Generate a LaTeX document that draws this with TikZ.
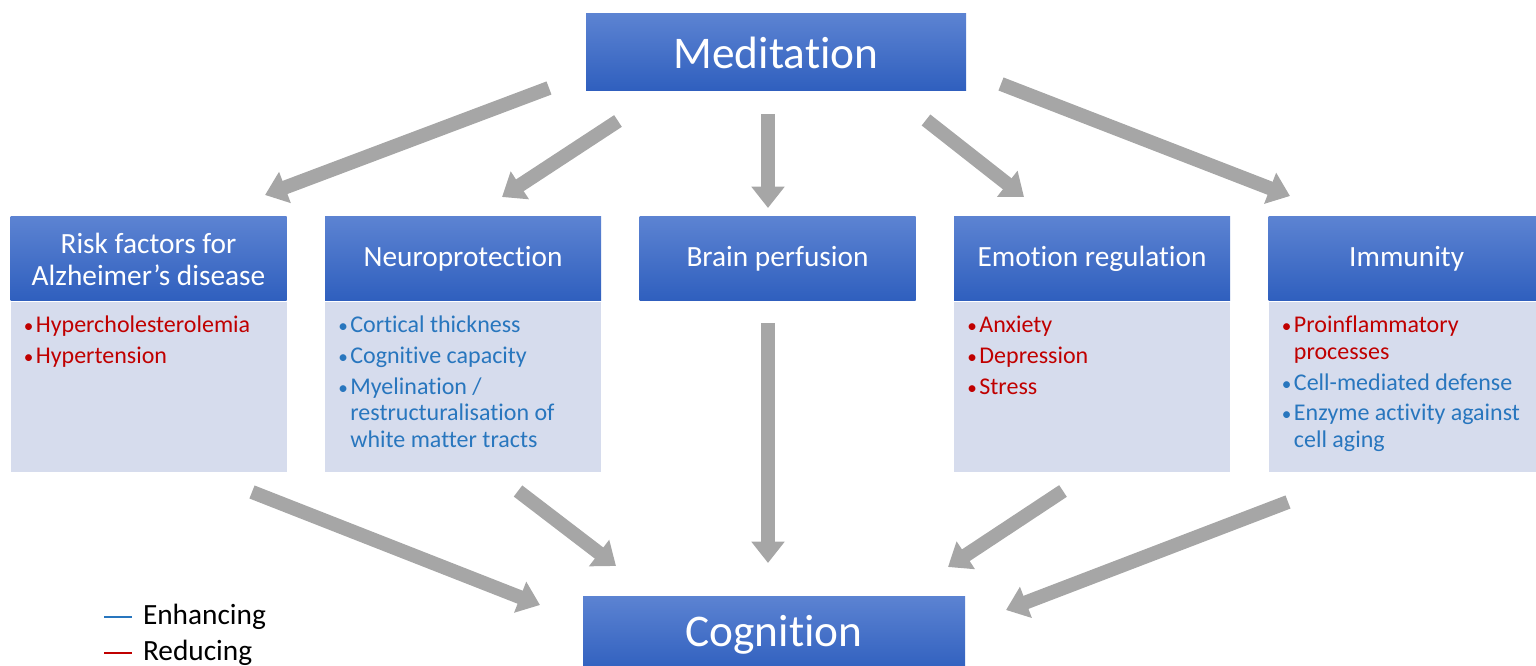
\documentclass[tikz,border=0pt]{standalone}
\usepackage{fontspec}
\setmainfont{Carlito}[Ligatures=NoCommon]
\usetikzlibrary{positioning,arrows.meta}

\definecolor{headtop}{RGB}{92,131,210}
\definecolor{headbot}{RGB}{47,95,190}
\definecolor{bodyfill}{RGB}{214,220,237}
\definecolor{flowgray}{RGB}{166,166,166}
\definecolor{upblue}{RGB}{40,118,190}
\definecolor{downred}{RGB}{192,0,0}

\newcommand{\itm}[2]{\par\hangindent=9pt\hangafter=1\hyphenpenalty=10000\relax\noindent
  {\color{#1}\makebox[9pt][l]{\scalebox{0.8}{\textbullet}}#2}\par}

\begin{document}
\begin{tikzpicture}[x=0.75pt,y=-0.75pt,
    head/.style={minimum width=207pt,minimum height=63pt,inner sep=0pt,
        top color=headtop,bottom color=headbot,text=white,align=center,
        font=\fontsize{22}{24}\selectfont},
    bigbox/.style={head,minimum width=285pt,minimum height=57.75pt,
        font=\fontsize{34}{38}\selectfont},
    bodybox/.style={fill=bodyfill,minimum width=207pt,minimum height=127.5pt,inner sep=0pt},
    items/.style={anchor=north west,inner sep=0pt,text width=189pt,align=flush left,
        font=\fontsize{18}{20}\selectfont\setlength{\parskip}{3pt}},
    flow/.style={draw=flowgray,line width=10.5pt,-{Triangle[width=24pt,length=16pt]}},
    key/.style={line width=1.5pt},
    keytext/.style={inner sep=0pt,right=7.5pt,text=black,font=\fontsize{22}{24}\selectfont}]

\useasboundingbox (0,0) rectangle (1536,666);
\clip (0,0) rectangle (1536,666);

\node[bigbox] (med) at (776,52.5) {Meditation};
\node[bigbox,minimum width=286.5pt] (cog) at (774,634.5) {Cognition};

% middle row
\node[head] (risk) at (148.5,259) {Risk factors for\\Alzheimer’s disease};
\node[head,right=28.5pt of risk] (neuro) {Neuroprotection};
\node[head,right=28.5pt of neuro] (perf) {Brain perfusion};
\node[head,right=28.5pt of perf] (emo) {Emotion regulation};
\node[head,right=28.5pt of emo] (imm) {Immunity};

\node[bodybox,below=0pt of risk] (riskb) {};
\node[bodybox,below=0pt of neuro] (neurob) {};
\node[bodybox,below=0pt of emo] (emob) {};
\node[bodybox,below=0pt of imm] (immb) {};

\node[items] (riskl) at ([shift={(10pt,-0.5pt)}]riskb.north west)
  {\itm{downred}{Hypercholesterolemia}
   \itm{downred}{Hypertension}};
\node[items] (neurol) at ([shift={(10pt,-0.5pt)}]neurob.north west)
  {\itm{upblue}{Cortical thickness}
   \itm{upblue}{Cognitive capacity}
   \itm{upblue}{Myelination / restructuralisation of white matter tracts}};
\node[items] (emol) at ([shift={(10pt,-0.5pt)}]emob.north west)
  {\itm{downred}{Anxiety}
   \itm{downred}{Depression}
   \itm{downred}{Stress}};
\node[items] (imml) at ([shift={(10pt,-0.5pt)}]immb.north west)
  {\itm{downred}{Proinflammatory processes}
   \itm{upblue}{Cell-mediated defense}
   \itm{upblue}{Enzyme activity against cell aging}};

% arrows out of meditation
\coordinate (m1) at (549,88);   \coordinate (r1) at (265,195);
\coordinate (m2) at (618,121);  \coordinate (r2) at (502,197);
\coordinate (m3) at (768,114);  \coordinate (r3) at (768,208);
\coordinate (m4) at (926,120);  \coordinate (r4) at (1024,197);
\coordinate (m5) at (1001,84);  \coordinate (r5) at (1290,196);
\draw[flow] (m1) -- (r1);
\draw[flow] (m2) -- (r2);
\draw[flow] (m3) -- (r3);
\draw[flow] (m4) -- (r4);
\draw[flow] (m5) -- (r5);

% arrows into cognition
\coordinate (s1) at (252,492);  \coordinate (c1) at (540,605);
\coordinate (s2) at (518,491);  \coordinate (c2) at (616,566);
\coordinate (s3) at (768,323);  \coordinate (c3) at (768,563);
\coordinate (s4) at (1063,491); \coordinate (c4) at (948,567);
\coordinate (s5) at (1288,502); \coordinate (c5) at (1006,610);
\draw[flow] (s1) -- (c1);
\draw[flow] (s2) -- (c2);
\draw[flow] (s3) -- (c3);
\draw[flow] (s4) -- (c4);
\draw[flow] (s5) -- (c5);

% legend
\coordinate (k1) at (104,617); \coordinate (k2) at (132,617);
\coordinate (k3) at (104,653); \coordinate (k4) at (132,653);
\draw[key,draw=upblue] (k1) -- (k2) node[keytext] {Enhancing};
\draw[key,draw=downred] (k3) -- (k4) node[keytext] {Reducing};

\end{tikzpicture}
\end{document}
